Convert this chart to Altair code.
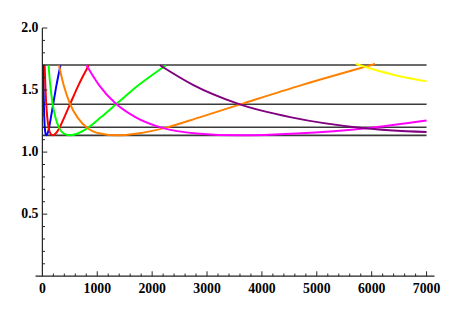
import altair as alt
import pandas as pd

# ---- data ----
curve_names = ["blue", "red", "green", "orange", "magenta", "purple", "yellow"]
curve_colors = ["#0000FF", "#FF0000", "#00FF00", "#FF8000", "#FF00FF", "#800080", "#FFFF00"]

blue_x = [16.4, 21.1, 27.1, 34.8, 44.7, 57.4, 73.7, 94.6, 121.5, 156.0, 200.3, 257.2, 330.3]
blue_y = [1.70, 1.54, 1.395, 1.28, 1.195, 1.15, 1.135, 1.15, 1.195, 1.28, 1.395, 1.54, 1.70]

red_x = [42.1, 54.1, 69.4, 89.1, 114.4, 147.0, 188.7, 242.3, 311.1, 399.5, 512.9, 658.6, 845.7]
red_y = [1.70, 1.54, 1.395, 1.28, 1.195, 1.15, 1.135, 1.15, 1.195, 1.28, 1.395, 1.54, 1.70]

green_x = [112.2, 144.0, 184.9, 237.5, 304.9, 391.5, 502.7, 645.5, 828.8, 1064.2, 1366.5, 1754.6, 2253.0]
green_y = [1.70, 1.54, 1.395, 1.28, 1.195, 1.15, 1.135, 1.15, 1.195, 1.28, 1.395, 1.54, 1.70]

orange_x = [301.8, 387.6, 497.7, 639.1, 820.5, 1053.6, 1352.9, 1737.1, 2230.5, 2864.1, 3677.6, 4722.0, 6063.3]
orange_y = [1.70, 1.54, 1.395, 1.28, 1.195, 1.15, 1.135, 1.15, 1.195, 1.28, 1.395, 1.54, 1.71]

magenta_x = [804.1, 1032.5, 1325.9, 1702.5, 2185.8, 2806.8, 3604.0, 4627.5, 5941.9, 7000.0]
magenta_y = [1.70, 1.54, 1.395, 1.28, 1.195, 1.15, 1.135, 1.15, 1.195, 1.255]

purple_x = [2142.9, 2751.8, 3533.7, 4537.4, 5825.4, 7000.0]
purple_y = [1.70, 1.54, 1.395, 1.28, 1.195, 1.162]

yellow_x = [5711.0, 6472.0, 7000.0]
yellow_y = [1.71, 1.615, 1.57]

hline_values = [1.702, 1.386, 1.20, 1.135]
hline_x_start = [0]
hline_x_end = [7000]

x_label_values = [0, 1000, 2000, 3000, 4000, 5000, 6000, 7000]
y_label_values = [0.5, 1.0, 1.5, 2.0]
x_major_ticks = [1000, 2000, 3000, 4000, 5000, 6000, 7000]
x_minor_ticks = [v for v in range(200, 7000, 200) if v % 1000 != 0]
y_major_ticks = [0.5, 1.0, 1.5, 2.0]
y_minor_ticks = [0.1, 0.2, 0.3, 0.4, 0.6, 0.7, 0.8, 0.9, 1.1, 1.2, 1.3, 1.4, 1.6, 1.7, 1.8, 1.9]

# ---- build tables ----
series = {
    "blue": (blue_x, blue_y),
    "red": (red_x, red_y),
    "green": (green_x, green_y),
    "orange": (orange_x, orange_y),
    "magenta": (magenta_x, magenta_y),
    "purple": (purple_x, purple_y),
    "yellow": (yellow_x, yellow_y),
}
rows = []
for name in curve_names:
    xs, ys = series[name]
    for i, (x, y) in enumerate(zip(xs, ys)):
        rows.append({"curve": name, "i": i, "x": x, "y": y})
df = pd.DataFrame(rows)

hl_df = pd.DataFrame({"v": hline_values,
                      "x0": hline_x_start * len(hline_values),
                      "x1": hline_x_end * len(hline_values)})

# ---- layout ----
XMIN, XMAX = -125, 7145
W, H = 406.1, 252.6
x0_px = (0 - XMIN) / (XMAX - XMIN) * W

xsc = alt.Scale(domain=[XMIN, XMAX], nice=False, zero=False)
ysc = alt.Scale(domain=[0, 2.0], nice=False, zero=False)

FONT = "Liberation Serif"
AXIS_COLOR = "#222222"

hl = alt.Chart(hl_df).mark_rule(color="#3a3a3a", strokeWidth=1.6).encode(
    y=alt.Y("v:Q", scale=ysc, axis=None),
    x=alt.X("x0:Q", scale=xsc, axis=None),
    x2="x1:Q",
)

lines = alt.Chart(df).mark_line(strokeWidth=2, interpolate="monotone").encode(
    x=alt.X("x:Q", scale=xsc, axis=None),
    y=alt.Y("y:Q", scale=ysc, axis=None),
    color=alt.Color("curve:N", scale=alt.Scale(domain=curve_names, range=curve_colors), legend=None),
    detail="curve:N",
    order=alt.Order("i:Q"),
)

# axis lines
x_axis_line = alt.Chart(pd.DataFrame({"a": [0]})).mark_rule(color=AXIS_COLOR, strokeWidth=1.2).encode(
    x=alt.value(0), x2=alt.value(W),
    y=alt.Y(datum=0, type="quantitative", scale=ysc, axis=None),
)
y_axis_line = alt.Chart(pd.DataFrame({"a": [0]})).mark_rule(color=AXIS_COLOR, strokeWidth=1.2).encode(
    x=alt.X(datum=0, type="quantitative", scale=xsc, axis=None),
    y=alt.Y(datum=0, type="quantitative", scale=ysc, axis=None),
    y2=alt.Y2(datum=2.0),
)


def xticks(vals, length):
    return alt.Chart(pd.DataFrame({"t": vals})).mark_rule(color=AXIS_COLOR, strokeWidth=1).encode(
        x=alt.X("t:Q", scale=xsc, axis=None),
        y=alt.Y(datum=0, type="quantitative", scale=ysc, axis=None),
        y2=alt.value(H - length),
    )


def yticks(vals, length):
    return alt.Chart(pd.DataFrame({"t": vals})).mark_rule(color=AXIS_COLOR, strokeWidth=1).encode(
        y=alt.Y("t:Q", scale=ysc, axis=None),
        x=alt.X(datum=0, type="quantitative", scale=xsc, axis=None),
        x2=alt.value(x0_px + length),
    )


x_labels = alt.Chart(pd.DataFrame({"v": x_label_values})).mark_text(
    font=FONT, fontWeight="bold", fontSize=14, color="black", baseline="top", align="center", dy=6
).encode(
    x=alt.X("v:Q", scale=xsc, axis=None),
    y=alt.Y(datum=0, type="quantitative", scale=ysc, axis=None),
    text=alt.Text("v:Q", format="d"),
)

y_labels = alt.Chart(pd.DataFrame({"v": y_label_values})).mark_text(
    font=FONT, fontWeight="bold", fontSize=14, color="black", baseline="middle", align="right", dx=-4
).encode(
    y=alt.Y("v:Q", scale=ysc, axis=None),
    x=alt.X(datum=0, type="quantitative", scale=xsc, axis=None),
    text=alt.Text("v:Q", format=".1f"),
)

chart = alt.layer(
    hl, lines,
    x_axis_line, y_axis_line,
    xticks(x_major_ticks, 5), xticks(x_minor_ticks, 2.7),
    yticks(y_major_ticks, 5), yticks(y_minor_ticks, 2.7),
    x_labels, y_labels,
).properties(
    width=W, height=H,
    padding={"left": 28, "top": 17.7, "right": 30, "bottom": 30},
    autosize=alt.AutoSizeParams(type="none"),
    background="white",
).configure_view(stroke=None)

chart.save("out.html", embed_options={"renderer": "svg", "actions": False})
